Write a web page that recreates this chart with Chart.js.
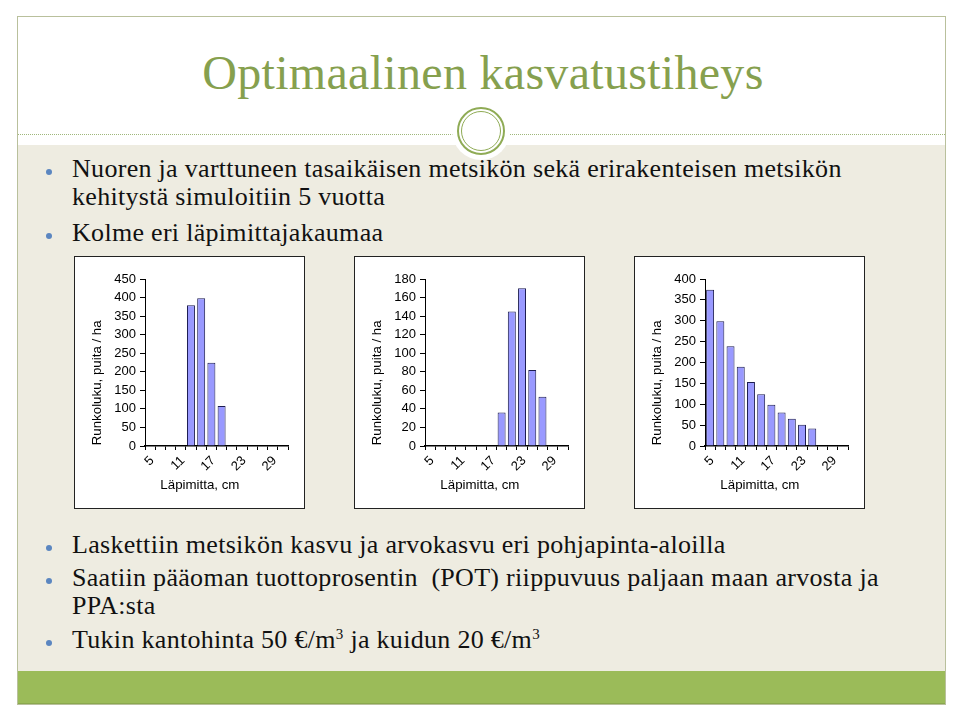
<!DOCTYPE html>
<html lang="fi">
<head>
<meta charset="UTF-8">
<title>Optimaalinen kasvatustiheys</title>
<script src="https://cdn.jsdelivr.net/npm/chart.js"></script>
<style>
    body { margin: 0; width: 960px; height: 721px; background: #fff; position: relative; overflow: hidden; font-family: "Liberation Serif", "DejaVu Serif", serif; }
    .abs { position: absolute; }
    .frame { left: 17px; top: 16px; width: 929px; height: 689px; box-sizing: border-box; border: 1px solid #b9c09c; }
    .beige { left: 18px; top: 145px; width: 927px; height: 526px; background: #eeece1; }
    .band { left: 18px; top: 671px; width: 927px; height: 33px; background: #9bbb59; border-bottom: 1px solid #8aa84e; box-sizing: border-box; }
    .dots { left: 18px; top: 134px; width: 927px; border-top: 1px dotted #9fb77a; }
    .halo { left: 452px; top: 102px; width: 58px; height: 58px; border-radius: 50%; background: #fff; }
    .ring1 { left: 457px; top: 107px; width: 48px; height: 48px; border-radius: 50%; border: 2.5px solid #8fab55; box-sizing: border-box; }
    .ring2 { left: 461px; top: 111px; width: 40px; height: 40px; border-radius: 50%; border: 1.5px solid #8fab55; box-sizing: border-box; }
    .title { left: 3px; top: 49px; width: 960px; text-align: center; font-family: "Liberation Serif", serif; font-size: 48px; line-height: 48px; letter-spacing: 0.3px; color: #86a04e; }
    .line { left: 72px; font-family: "Liberation Serif", serif; font-size: 26px; line-height: 28px; letter-spacing: 0.3px; color: #111; white-space: nowrap; }
    .bullet { left: 46px; width: 6px; height: 6px; border-radius: 50%; background: #5b86c0; }
    .box { top: 256px; width: 231px; height: 253px; box-sizing: border-box; border: 1px solid #222; background: #fff; }
    sup { font-size: 15px; line-height: 0; vertical-align: 9px; }
</style>
</head>
<body>
    <div class="abs frame"></div>
    <div class="abs beige"></div>
    <div class="abs band"></div>
    <div class="abs dots"></div>
    <div class="abs halo"></div>
    <div class="abs ring1"></div>
    <div class="abs ring2"></div>
    <div class="abs title">Optimaalinen kasvatustiheys</div>

    <div class="abs bullet" style="top:169px"></div>
    <div class="abs line" style="top:155px">Nuoren ja varttuneen tasaikäisen metsikön sekä erirakenteisen metsikön</div>
    <div class="abs line" style="top:183px">kehitystä simuloitiin 5 vuotta</div>
    <div class="abs bullet" style="top:233px"></div>
    <div class="abs line" style="top:219px">Kolme eri läpimittajakaumaa</div>

    <div class="abs box" style="left:74px"><canvas id="chartYoung" width="229" height="251"></canvas></div>
    <div class="abs box" style="left:354px"><canvas id="chartOlder" width="229" height="251"></canvas></div>
    <div class="abs box" style="left:634px"><canvas id="chartUneven" width="229" height="251"></canvas></div>

    <div class="abs bullet" style="top:545px"></div>
    <div class="abs line" style="top:531px">Laskettiin metsikön kasvu ja arvokasvu eri pohjapinta-aloilla</div>
    <div class="abs bullet" style="top:578px"></div>
    <div class="abs line" style="top:564px">Saatiin pääoman tuottoprosentin&nbsp; (POT) riippuvuus paljaan maan arvosta ja</div>
    <div class="abs line" style="top:592px">PPA:sta</div>
    <div class="abs bullet" style="top:640px"></div>
    <div class="abs line" style="top:626px">Tukin kantohinta 50 €/m<sup>3</sup> ja kuidun 20 €/m<sup>3</sup></div>

<script>
    // diameter classes (cm), labels shown every third class
    const diameters = [5, 7, 9, 11, 13, 15, 17, 19, 21, 23, 25, 27, 29, 31];
    const shownLabels = [5, 11, 17, 23, 29];

    // stems per hectare
    const youngStand = [0, 0, 0, 0, 379, 398, 224, 108, 0, 0, 0, 0, 0, 0];
    const olderStand = [0, 0, 0, 0, 0, 0, 0, 36, 145, 170, 82, 53, 0, 0];
    const unevenStand = [374, 299, 239, 190, 153, 124, 99, 80, 65, 51, 42, 0, 0, 0];

    // y axis ranges [max, step]
    const youngAxis = [450, 50];
    const olderAxis = [180, 20];
    const unevenAxis = [400, 50];

    const yTitle = 'Runkoluku, puita / ha';
    const xTitle = 'Läpimitta, cm';

    const tickFont = { family: 'Liberation Sans', size: 13 };
    const titleFont = { family: 'Liberation Sans', size: 13.3 };

    function buildChart(id, values, axis) {
        const ctx = document.getElementById(id).getContext('2d');
        new Chart(ctx, {
            type: 'bar',
            data: {
                labels: diameters,
                datasets: [{
                    data: values,
                    backgroundColor: '#9999ff',
                    borderColor: '#1c1c50',
                    borderWidth: 1,
                    barPercentage: 0.78,
                    categoryPercentage: 1
                }]
            },
            options: {
                responsive: false,
                animation: false,
                layout: { padding: { top: 22, right: 16, bottom: 0, left: 0 } },
                plugins: { legend: { display: false }, tooltip: { enabled: false } },
                scales: {
                    x: {
                        grid: { drawOnChartArea: false, tickLength: 4, color: '#000', offset: true },
                        border: { color: '#000', width: 1.5 },
                        ticks: {
                            autoSkip: false, minRotation: 45, maxRotation: 45, padding: 3, labelOffset: 2,
                            color: '#000', font: tickFont,
                            callback: (v, i) => shownLabels.includes(diameters[i]) ? String(diameters[i]) : ''
                        },
                        title: { display: true, text: xTitle + '\u00a0'.repeat(9), color: '#000', font: titleFont, padding: { top: 0, bottom: 15 } },
                        afterFit: s => { s.height = 62; }
                    },
                    y: {
                        min: 0, max: axis[0],
                        grid: { drawOnChartArea: false, tickLength: 5, color: '#000' },
                        border: { color: '#000', width: 1 },
                        ticks: { stepSize: axis[1], autoSkip: false, padding: 4, color: '#000', font: tickFont },
                        title: { display: true, text: yTitle + '\u00a0'.repeat(11), color: '#000', font: titleFont, padding: { top: 14, bottom: 0 } },
                        afterFit: s => { s.width = 70; }
                    }
                }
            }
        });
    }

    buildChart('chartYoung', youngStand, youngAxis);
    buildChart('chartOlder', olderStand, olderAxis);
    buildChart('chartUneven', unevenStand, unevenAxis);
</script>
</body>
</html>
